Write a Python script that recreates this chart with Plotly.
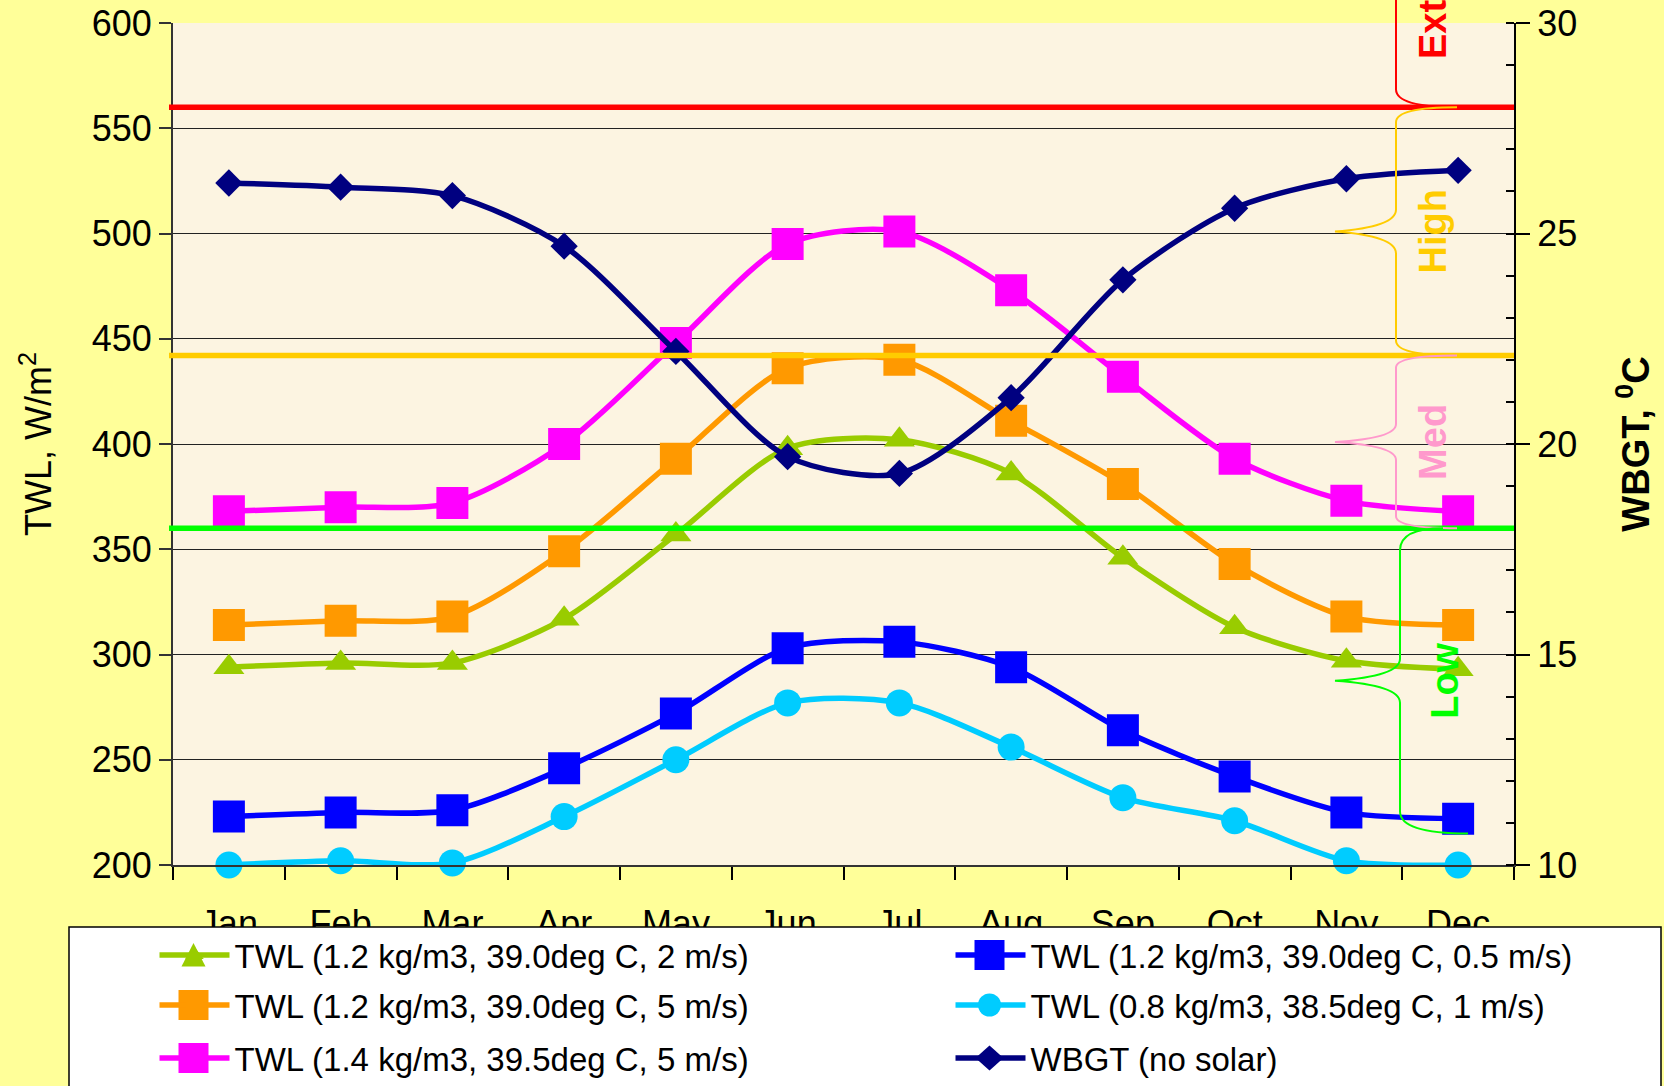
import plotly.graph_objects as go

# ---------------- data ----------------
months = ["Jan", "Feb", "Mar", "Apr", "May", "Jun", "Jul", "Aug", "Sep", "Oct", "Nov", "Dec"]

twl_12_39_2 = [294, 296, 296, 317, 357, 398, 402, 386, 346, 313, 297, 293]
twl_12_39_5 = [314, 316, 318, 349, 393, 436, 440, 411, 381, 343, 318, 314]
twl_14_395_5 = [368, 370, 372, 400, 448, 495, 501, 473, 432, 393, 373, 368]
twl_12_39_05 = [223, 225, 226, 246, 272, 303, 306, 294, 264, 242, 225, 222]
twl_08_385_1 = [200, 202, 201, 223, 250, 277, 277, 256, 232, 221, 202, 200]
wbgt_no_solar = [26.2, 26.1, 25.9, 24.7, 22.2, 19.7, 19.3, 21.1, 23.9, 25.6, 26.3, 26.5]

names = [
    "TWL (1.2 kg/m3, 39.0deg C, 2 m/s)",
    "TWL (1.2 kg/m3, 39.0deg C, 5 m/s)",
    "TWL (1.4 kg/m3, 39.5deg C, 5 m/s)",
    "TWL (1.2 kg/m3, 39.0deg C, 0.5 m/s)",
    "TWL (0.8 kg/m3, 38.5deg C, 1 m/s)",
    "WBGT (no solar)",
]

# WBGT risk thresholds (right axis, deg C) and zone labels
wbgt_thresholds = [28.0, 22.1, 18.0]
zone_labels = ["Extreme", "High", "Med", "Low"]
low_zone_bottom_wbgt = 10.75

# ---------------- layout constants ----------------
W, H = 1664, 1086
ML, MR, MT, MB = 173, 150, 23, 221
PW, PH = W - ML - MR, H - MT - MB
Y_RANGE = [200, 600]
Y2_RANGE = [10, 30]
FONT = "Liberation Sans, Arial, sans-serif"


def px_x(X):
    return (X - ML) / PW


def px_y(Y):
    return (H - MB - Y) / PH


def val_y2(v):
    return (v - Y2_RANGE[0]) / (Y2_RANGE[1] - Y2_RANGE[0])


styles = [
    dict(color="#99CC00", symbol="triangle-up", size=27),
    dict(color="#FF9900", symbol="square", size=32),
    dict(color="#FF00FF", symbol="square", size=32),
    dict(color="#0000FF", symbol="square", size=32),
    dict(color="#00CCFF", symbol="circle", size=27),
    dict(color="#000080", symbol="diamond", size=21),
]
series = [twl_12_39_2, twl_12_39_5, twl_14_395_5, twl_12_39_05, twl_08_385_1, wbgt_no_solar]
legend_ids = ["legend", "legend2", "legend3", "legend4", "legend5", "legend6"]
# legend cell: (column, row)
legend_cells = [(0, 0), (0, 1), (0, 2), (1, 0), (1, 1), (1, 2)]

fig = go.Figure()
for i, (vals, st) in enumerate(zip(series, styles)):
    fig.add_trace(go.Scatter(
        x=months, y=vals, name=names[i],
        mode="lines+markers",
        line=dict(color=st["color"], width=5.5, shape="spline", smoothing=0.8),
        marker=dict(color=st["color"], symbol=st["symbol"], size=st["size"], line=dict(width=0)),
        yaxis="y2" if i == 5 else "y",
        legend=legend_ids[i],
        cliponaxis=False,
    ))

shapes = []
thr_colors = ["#FF0000", "#FFCC00", "#00FF00"]
for t, c in zip(wbgt_thresholds, thr_colors):
    shapes.append(dict(type="line", xref="paper", yref="paper",
                       x0=px_x(169), x1=1.0, y0=val_y2(t), y1=val_y2(t),
                       line=dict(color=c, width=5.5), layer="above"))


def brace(y_top, y_bot, xv, xt, xe_top, xe_bot, r_end, r_tip):
    d_end = r_end / PH
    d_tip = r_tip / PH
    ym = (y_top + y_bot) / 2
    xv, xt, xe_top, xe_bot = px_x(xv), px_x(xt), px_x(xe_top), px_x(xe_bot)
    return (f"M {xe_top},{y_top} Q {xv},{y_top} {xv},{y_top - d_end} "
            f"L {xv},{ym + d_tip} Q {xv},{ym + d_tip * 0.2} {xt},{ym} "
            f"Q {xv},{ym - d_tip * 0.2} {xv},{ym - d_tip} "
            f"L {xv},{y_bot + d_end} Q {xv},{y_bot} {xe_bot},{y_bot}")


zone_colors = ["#FF0000", "#FFCC00", "#FF99CC", "#00FF00"]
yt = [val_y2(t) for t in wbgt_thresholds]
ext_path = (f"M {px_x(1396)},1.06 L {px_x(1396)},{yt[0] + 18 / PH} "
            f"Q {px_x(1396)},{yt[0]} {px_x(1457)},{yt[0]}")
shapes.append(dict(type="path", xref="paper", yref="paper", path=ext_path,
                   line=dict(color=zone_colors[0], width=2), layer="above"))
shapes.append(dict(type="path", xref="paper", yref="paper",
                   path=brace(yt[0], yt[1], 1396, 1335, 1457, 1457, 15, 22),
                   line=dict(color=zone_colors[1], width=2), layer="above"))
shapes.append(dict(type="path", xref="paper", yref="paper",
                   path=brace(yt[1], yt[2], 1396, 1335, 1457, 1457, 12, 18),
                   line=dict(color=zone_colors[2], width=2), layer="above"))
low_bot = val_y2(low_zone_bottom_wbgt)
shapes.append(dict(type="path", xref="paper", yref="paper",
                   path=brace(yt[2], low_bot, 1400, 1335, 1443, 1468, 22, 22),
                   line=dict(color=zone_colors[3], width=2), layer="above"))

# legend box
shapes.append(dict(type="rect", xref="paper", yref="paper",
                   x0=px_x(69), x1=px_x(1661), y0=px_y(1100), y1=px_y(927),
                   fillcolor="white", line=dict(color="black", width=1.5), layer="above"))

legend_col_x = [154.5, 950.5]
legend_row_y = [955, 1005, 1058]
LEG_SYMBOL_OFFSET = 39


def legend_symbol_shape(sym, color, cx, cy):
    """Enlarged legend glyph (plotly caps legend markers at 16px)."""
    def P(dx, dy):
        return f"{px_x(cx + dx)},{px_y(cy + dy)}"
    if sym == "square":
        return dict(type="rect", xref="paper", yref="paper",
                    x0=px_x(cx - 15), x1=px_x(cx + 15), y0=px_y(cy + 15), y1=px_y(cy - 15),
                    fillcolor=color, line=dict(width=0), layer="above")
    if sym == "circle":
        return dict(type="circle", xref="paper", yref="paper",
                    x0=px_x(cx - 11.5), x1=px_x(cx + 11.5), y0=px_y(cy + 11.5), y1=px_y(cy - 11.5),
                    fillcolor=color, line=dict(width=0), layer="above")
    if sym == "triangle-up":
        path = f"M {P(-12, 11.5)} L {P(12, 11.5)} L {P(0, -12)} Z"
    else:  # diamond
        path = f"M {P(0, -12.5)} L {P(14, 0)} L {P(0, 12.5)} L {P(-14, 0)} Z"
    return dict(type="path", xref="paper", yref="paper", path=path,
                fillcolor=color, line=dict(width=0), layer="above")


legends = {}
for i, (lid, (c, r)) in enumerate(zip(legend_ids, legend_cells)):
    legends[lid] = dict(orientation="h", xanchor="left", yanchor="middle",
                        x=px_x(legend_col_x[c]), y=px_y(legend_row_y[r]),
                        itemwidth=70, bgcolor="rgba(0,0,0,0)", borderwidth=0,
                        font=dict(family=FONT, size=33, color="black"),
                        itemsizing="trace")
    shapes.append(legend_symbol_shape(styles[i]["symbol"], styles[i]["color"],
                                      legend_col_x[c] + LEG_SYMBOL_OFFSET, legend_row_y[r]))

annotations = []
annotations.append(dict(text=f"<b>{zone_labels[0]}</b>", xref="paper", yref="paper",
                        x=px_x(1433), y=px_y(61), xanchor="center", yanchor="bottom",
                        textangle=-90, showarrow=False,
                        font=dict(family=FONT, size=38, color=zone_colors[0])))
mids = [(yt[0] + yt[1]) / 2, (yt[1] + yt[2]) / 2, (yt[2] + low_bot) / 2]
label_x = [1433, 1433, 1445]
for k in range(3):
    annotations.append(dict(text=f"<b>{zone_labels[k + 1]}</b>", xref="paper", yref="paper",
                            x=px_x(label_x[k]), y=mids[k], xanchor="center", yanchor="middle",
                            textangle=-90, showarrow=False,
                            font=dict(family=FONT, size=38, color=zone_colors[k + 1])))

fig.update_layout(
    width=W, height=H,
    margin=dict(l=ML, r=MR, t=MT, b=MB, pad=0, autoexpand=False),
    paper_bgcolor="#FFFF99",
    plot_bgcolor="#FCF4E1",
    font=dict(family=FONT, size=36, color="black"),
    showlegend=True,
    xaxis=dict(
        type="category", categoryorder="array", categoryarray=months,
        range=[-0.5, 11.5],
        tickson="boundaries", ticks="outside", ticklen=13, tickwidth=1.5, tickcolor="black",
        showline=True, linecolor="#333333", linewidth=2,
        showgrid=False, zeroline=False,
        tickfont=dict(family=FONT, size=36, color="black"),
        ticklabelstandoff=26,
    ),
    yaxis=dict(
        range=Y_RANGE, dtick=50, tick0=200,
        ticks="outside", ticklen=12, tickwidth=1.5, tickcolor="#333333",
        showline=True, linecolor="#333333", linewidth=2,
        showgrid=True, gridcolor="#222222", gridwidth=1,
        zeroline=False,
        tickfont=dict(family=FONT, size=36, color="black"),
        title=dict(text="TWL, W/m<sup>2</sup>", font=dict(family=FONT, size=36, color="black"),
                   standoff=29),
    ),
    yaxis2=dict(
        range=Y2_RANGE, dtick=5, tick0=10, overlaying="y", side="right",
        ticks="outside", ticklen=14, tickwidth=1.5, tickcolor="black",
        minor=dict(ticks="inside", dtick=1, ticklen=8, tickwidth=1.5, tickcolor="black", showgrid=False),
        showline=True, linecolor="black", linewidth=2,
        showgrid=False, zeroline=False,
        tickfont=dict(family=FONT, size=36, color="black"),
        title=dict(text="<b>WBGT, <sup>0</sup>C</b>", font=dict(family=FONT, size=38, color="black"),
                   standoff=46),
    ),
    shapes=shapes,
    annotations=annotations,
    **legends,
)

fig.write_html("out.html", config={"displayModeBar": False},
               post_script="document.body.style.margin='0px';document.body.style.overflow='hidden';")
